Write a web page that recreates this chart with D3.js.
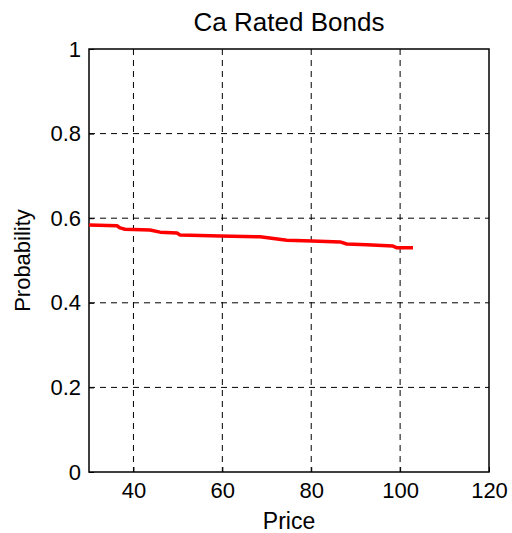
<!DOCTYPE html>
<html>
<head>
<meta charset="utf-8">
<script src="https://cdn.jsdelivr.net/npm/d3@7"></script>
<style>
  body { margin: 0; background: #fff; }
  svg { font-family: 'Liberation Sans', Arial, sans-serif; }
</style>
</head>
<body>
<svg id="chart" width="512" height="533"></svg>
<script>
// values
const price = [30, 36.3, 37, 38.1, 43.7, 46, 49.8, 50.5, 59.5, 68.5, 74.5, 80.2, 86.5, 88, 92.5, 98.4, 99.3, 102.9];
const prob = [0.584, 0.582, 0.577, 0.574, 0.572, 0.567, 0.565, 0.56, 0.558, 0.556, 0.548, 0.546, 0.544, 0.539, 0.537, 0.534, 0.53, 0.53];
const xTicks = [40, 60, 80, 100, 120];
const yTicks = [0, 0.2, 0.4, 0.6, 0.8, 1];

const margin = { top: 49, right: 23, bottom: 61, left: 89 };
const svg = d3.select("#chart");
const W = +svg.attr("width"), H = +svg.attr("height");
const w = W - margin.left - margin.right, h = H - margin.top - margin.bottom;

const x = d3.scaleLinear().domain([30, 120]).range([0, w]);
const y = d3.scaleLinear().domain([0, 1]).range([h, 0]);

const g = svg.append("g").attr("transform", `translate(${margin.left},${margin.top})`);

// dashed grid
g.append("g").selectAll("line")
  .data(xTicks.filter(d => d < 120))
  .join("line")
  .attr("x1", d => x(d)).attr("x2", d => x(d))
  .attr("y1", 0).attr("y2", h)
  .attr("stroke", "#000").attr("stroke-width", 1)
  .attr("stroke-dasharray", "6,5");

g.append("g").selectAll("line")
  .data(yTicks.filter(d => d > 0 && d < 1))
  .join("line")
  .attr("x1", 0).attr("x2", w)
  .attr("y1", d => y(d)).attr("y2", d => y(d))
  .attr("stroke", "#000").attr("stroke-width", 1)
  .attr("stroke-dasharray", "6,5");

// axes (ticks pointing in, MATLAB style)
const xAxis = g.append("g").attr("transform", `translate(0,${h})`)
  .call(d3.axisBottom(x).tickValues(xTicks).tickSizeInner(-5).tickSizeOuter(0).tickPadding(10));
const yAxis = g.append("g")
  .call(d3.axisLeft(y).tickValues(yTicks).tickFormat(d3.format("~g")).tickSizeInner(-5).tickSizeOuter(0).tickPadding(8));

[xAxis, yAxis].forEach(a => {
  a.select(".domain").remove();
  a.selectAll("text").attr("font-size", 22).attr("fill", "#000")
    .attr("font-family", "'Liberation Sans', Arial, sans-serif");
  a.selectAll("line").attr("stroke", "#000");
});
xAxis.selectAll("text").attr("dy", "0.72em");

// box
g.append("rect")
  .attr("width", w).attr("height", h)
  .attr("fill", "none").attr("stroke", "#000").attr("stroke-width", 1.5);

// data line
const line = d3.line().x((d, i) => x(price[i])).y(d => y(d));
g.append("path")
  .datum(prob)
  .attr("d", line)
  .attr("fill", "none")
  .attr("stroke", "#ff0000")
  .attr("stroke-width", 3.5)
  .attr("stroke-linejoin", "round");

// labels
svg.append("text")
  .attr("x", margin.left + w / 2).attr("y", 31)
  .attr("text-anchor", "middle").attr("font-size", 26)
  .text("Ca Rated Bonds");

svg.append("text")
  .attr("x", margin.left + w / 2).attr("y", 529)
  .attr("text-anchor", "middle").attr("font-size", 23)
  .text("Price");

svg.append("text")
  .attr("transform", `translate(30,${margin.top + h / 2}) rotate(-90)`)
  .attr("text-anchor", "middle").attr("font-size", 22)
  .text("Probability");
</script>
</body>
</html>
